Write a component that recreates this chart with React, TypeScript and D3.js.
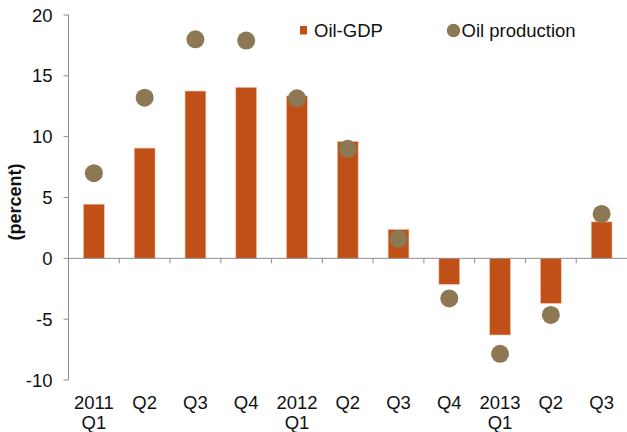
import React from "react";
import * as d3 from "d3";

const categories = ["2011|Q1", "Q2", "Q3", "Q4", "2012|Q1", "Q2", "Q3", "Q4", "2013|Q1", "Q2", "Q3"];
const oilGdp = [4.45, 9.06, 13.75, 14.05, 13.35, 9.6, 2.38, -2.14, -6.3, -3.7, 3.0];
const oilProduction = [7.0, 13.2, 18.0, 17.9, 13.15, 9.0, 1.6, -3.3, -7.85, -4.65, 3.65];
const yTicks = [-10, -5, 0, 5, 10, 15, 20];

const W = 627;
const H = 432;
const left = 68.5;
const right = 627;
const top = 15;
const bottom = 380;
const barColor = "#C05017";
const dotColor = "#8C7853";
const axisColor = "#8c8c8c";
const font = "'Liberation Sans', Arial, sans-serif";
const fs = 18.5;

export default function App() {
  const x = d3.scaleBand<number>().domain(d3.range(categories.length)).range([left, right]).paddingInner(0).paddingOuter(0);
  const y = d3.scaleLinear().domain([-10, 20]).range([bottom, top]);
  const bw = x.bandwidth();
  const barW = bw * 0.41;
  const y0 = y(0);

  return (
    <svg width={W} height={H} style={{ position: "absolute", left: 0, top: 0, background: "#fff" }} fontFamily={font}>
      {oilGdp.map((v, i) => {
        const cx = (x(i) as number) + bw / 2;
        const yt = Math.min(y(v), y0);
        const h = Math.abs(y(v) - y0);
        return (
          <rect key={"b" + i} x={cx - barW / 2} y={yt} width={barW} height={h} fill={barColor} stroke="#f2c3a6" strokeWidth={0.6} />
        );
      })}
      <line x1={left} x2={left} y1={top} y2={bottom} stroke={axisColor} strokeWidth={1} />
      {yTicks.map((t) => (
        <g key={"yt" + t}>
          <line x1={left - 5} x2={left} y1={y(t)} y2={y(t)} stroke={axisColor} />
          <text x={52.5} y={y(t)} dy="0.36em" textAnchor="end" fontSize={fs} fill="#111">
            {t}
          </text>
        </g>
      ))}
      <line x1={left} x2={right} y1={y0} y2={y0} stroke={axisColor} strokeWidth={1} />
      {categories.map((c, i) => {
        const xx = (x(i) as number) + bw;
        return i < categories.length - 1 ? (
          <line key={"xt" + i} x1={xx} x2={xx} y1={y0} y2={y0 + 5} stroke={axisColor} />
        ) : null;
      })}
      {categories.map((c, i) => {
        const cx = (x(i) as number) + bw / 2;
        const parts = c.split("|");
        return (
          <text key={"xl" + i} x={cx} y={409} textAnchor="middle" fontSize={fs} fill="#111">
            {parts.map((p, j) => (
              <tspan key={j} x={cx} dy={j === 0 ? 0 : 20}>
                {p}
              </tspan>
            ))}
          </text>
        );
      })}
      {oilProduction.map((v, i) => {
        const cx = (x(i) as number) + bw / 2;
        return <circle key={"d" + i} cx={cx} cy={y(v)} r={9} fill={dotColor} />;
      })}
      <text transform={`translate(21,202) rotate(-90)`} textAnchor="middle" fontSize={18} fontWeight="bold" fill="#111">
        (percent)
      </text>
      <rect x={300} y={26} width={7} height={8.5} fill={barColor} />
      <text x={314} y={36.5} fontSize={fs} fill="#111">Oil-GDP</text>
      <circle cx={453.5} cy={30.5} r={6.7} fill={dotColor} />
      <text x={461.5} y={36.5} fontSize={fs} fill="#111">Oil production</text>
    </svg>
  );
}
